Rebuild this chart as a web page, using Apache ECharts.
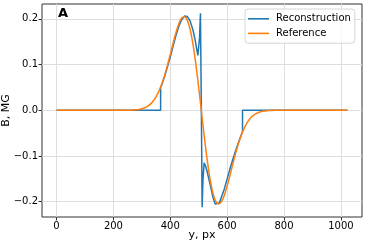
<!DOCTYPE html>
<html>
<head>
<meta charset="utf-8">
<script src="https://cdn.jsdelivr.net/npm/echarts@6/dist/echarts.min.js"></script>
<style>html,body{margin:0;padding:0;background:#fff}#c{width:365px;height:245px}</style>
</head>
<body>
<div id="c"></div>
<script>
// Reconstruction series (blue)
var recX = [0, 100, 200, 300, 366, 366, 370, 380, 390, 400, 410, 420, 430, 440, 450, 455, 460, 470, 480, 488, 494, 497, 500, 503, 506, 509, 512, 515, 519, 524, 530, 540, 550, 558, 564, 572, 580, 590, 600, 610, 620, 630, 640, 650, 654, 654, 700, 800, 900, 1023];
var recY = [0, 0, 0, 0, 0, 0.05, 0.056, 0.074, 0.095, 0.117, 0.141, 0.164, 0.184, 0.198, 0.206, 0.207, 0.205, 0.195, 0.175, 0.152, 0.13, 0.12, 0.122, 0.16, 0.212, 0.02, -0.212, -0.15, -0.115, -0.122, -0.135, -0.162, -0.19, -0.205, -0.208, -0.203, -0.19, -0.172, -0.15, -0.128, -0.107, -0.088, -0.07, -0.053, -0.046, 0, 0, 0, 0, 0];
// Reference series (orange)
var refX = [0, 100, 200, 250, 260, 270, 280, 290, 300, 310, 320, 330, 340, 350, 360, 370, 380, 390, 400, 410, 420, 430, 440, 450, 460, 470, 480, 490, 500, 510, 520, 530, 540, 550, 560, 570, 580, 590, 600, 610, 620, 630, 640, 650, 660, 670, 680, 690, 700, 710, 720, 730, 740, 750, 760, 770, 800, 900, 1023];
var refY = [0, 0, 0, 0, 0.0003, 0.0006, 0.0011, 0.0019, 0.0033, 0.0054, 0.0086, 0.0134, 0.0202, 0.0295, 0.0418, 0.0575, 0.0764, 0.0983, 0.1223, 0.147, 0.170, 0.189, 0.2017, 0.2048, 0.1966, 0.1762, 0.1435, 0.1003, 0.0493, -0.0055, -0.060, -0.1097, -0.151, -0.1812, -0.1992, -0.205, -0.1999, -0.1858, -0.1657, -0.1421, -0.1174, -0.0937, -0.0723, -0.0541, -0.0391, -0.0274, -0.0187, -0.0123, -0.0079, -0.0049, -0.0029, -0.0017, -0.0009, -0.0005, -0.0003, 0, 0, 0, 0];
var xTicks = [0, 200, 400, 600, 800, 1000];
var xTickLabels = ['0', '200', '400', '600', '800', '1000'];
var yTicks = [-0.2, -0.1, 0, 0.1, 0.2];
var yTickLabels = ['\u22120.2', '\u22120.1', '0.0', '0.1', '0.2'];
var seriesNames = ['Reconstruction', 'Reference'];
var panelLabel = 'A';
var xName = 'y, px';
var yName = 'B, MG';

function pairs(xs, ys) { return xs.map(function (x, i) { return [x, ys[i]]; }); }

var chart = echarts.init(document.getElementById('c'), null, {renderer: 'canvas'});
var font = 'DejaVu Sans';
chart.setOption({
  animation: false,
  backgroundColor: '#fff',
  textStyle: {fontFamily: font},
  title: {text: panelLabel, left: 56, top: 5, padding: 2, textStyle: {fontFamily: font, fontWeight: 'bold', fontSize: 13, color: '#000'}},
  grid: {left: 42, right: 3, top: 4, bottom: 28, outerBoundsMode: 'none', containLabel: false, show: true, borderColor: '#333', borderWidth: 1, backgroundColor: 'transparent'},
  legend: {
    left: 245, top: 9, orient: 'vertical', padding: [4, 4, 4, 3], itemGap: 3,
    itemWidth: 21, itemHeight: 1.6, icon: 'rect',
    backgroundColor: 'rgba(255,255,255,0.8)', borderColor: '#d6d6d6', borderWidth: 1, borderRadius: 3,
    textStyle: {fontFamily: font, fontSize: 10, color: '#000', lineHeight: 11.6, padding: [0, 0, 0, 2]},
    data: seriesNames
  },
  xAxis: {
    type: 'value', min: -51.15, max: 1074.15,
    name: xName, nameLocation: 'middle', nameGap: 13, nameMoveOverlap: false,
    nameTextStyle: {fontFamily: font, fontSize: 11, color: '#000'},
    axisLine: {show: false, onZero: false},
    axisTick: {show: true, customValues: xTicks, length: 3.5, lineStyle: {color: '#333'}},
    axisLabel: {customValues: xTicks, formatter: function (v) { return xTickLabels[xTicks.indexOf(v)]; }, fontFamily: font, fontSize: 10, color: '#000', margin: 4},
    splitLine: {show: true, lineStyle: {color: '#dedede', width: 1}}
  },
  yAxis: {
    type: 'value', min: -0.2335, max: 0.2325,
    name: yName, nameLocation: 'middle', nameGap: 30, nameMoveOverlap: false,
    nameTextStyle: {fontFamily: font, fontSize: 11, color: '#000'},
    axisLine: {show: false, onZero: false},
    axisTick: {show: true, customValues: yTicks, length: 3.5, lineStyle: {color: '#333'}},
    axisLabel: {customValues: yTicks, formatter: function (v) { var i = yTicks.findIndex(function (t) { return Math.abs(t - v) < 1e-9; }); return yTickLabels[i]; }, fontFamily: font, fontSize: 10, color: '#000', margin: 4},
    splitLine: {show: true, lineStyle: {color: '#dedede', width: 1}}
  },
  series: [
    {name: seriesNames[0], type: 'line', data: pairs(recX, recY), showSymbol: false, symbol: 'none', lineStyle: {color: '#1f77b4', width: 1.5}, itemStyle: {color: '#1f77b4'}, z: 2},
    {name: seriesNames[1], type: 'line', data: pairs(refX, refY), showSymbol: false, symbol: 'none', smooth: 0.3, lineStyle: {color: '#ff7f0e', width: 1.5}, itemStyle: {color: '#ff7f0e'}, z: 3}
  ]
});
</script>
</body>
</html>
